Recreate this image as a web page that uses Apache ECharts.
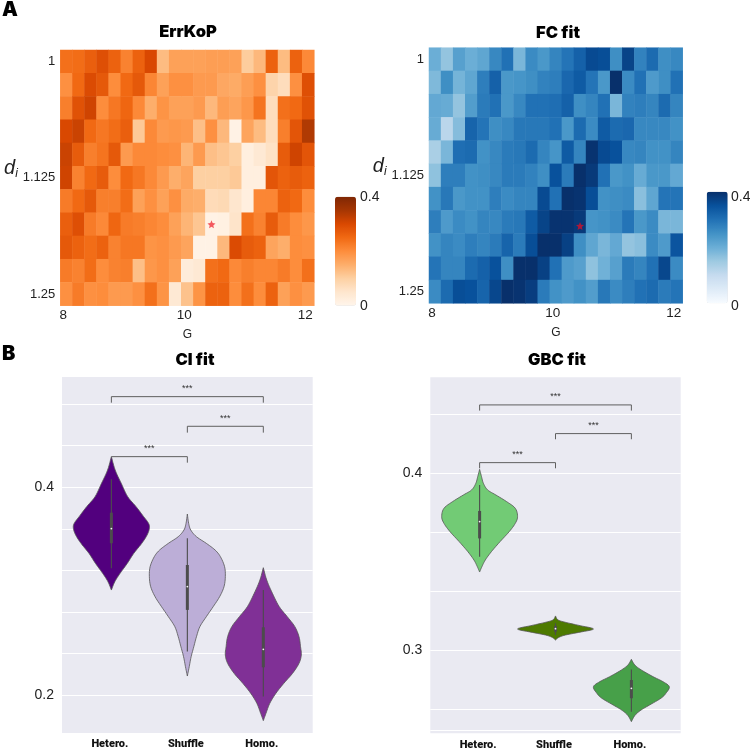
<!DOCTYPE html>
<html><head><meta charset="utf-8">
<style>html,body{margin:0;padding:0;background:#fff}#c{width:750px;height:750px}</style>
<script src="https://cdn.jsdelivr.net/npm/echarts@6/dist/echarts.min.js"></script>
</head><body><div id="c"></div>
<script>
// ---- heatmap axes ----
const gTicks = ['8','8.2','8.4','8.6','8.8','9','9.2','9.4','9.6','9.8','10','10.2','10.4','10.6','10.8','11','11.2','11.4','11.6','11.8','12'];
const diTicks = ['1','1.025','1.05','1.075','1.1','1.125','1.15','1.175','1.2','1.225','1.25'];
const bestPoint = ['10.4','1.175'];
// ---- heatmap values (rows = di, columns = G) ----
const errKoP = [
[.24,.245,.265,.29,.26,.215,.26,.30,.13,.17,.17,.17,.175,.175,.17,.105,.135,.26,.13,.26,.205],
[.195,.25,.295,.275,.20,.25,.275,.21,.17,.195,.195,.18,.18,.16,.155,.175,.195,.09,.07,.195,.29],
[.22,.285,.31,.20,.23,.255,.205,.15,.19,.17,.17,.18,.135,.175,.165,.185,.235,.07,.24,.25,.285],
[.30,.315,.25,.23,.245,.265,.11,.205,.18,.185,.18,.125,.195,.135,.01,.165,.13,.07,.22,.28,.34],
[.315,.27,.22,.235,.275,.18,.205,.205,.2,.195,.14,.18,.125,.115,.10,.02,.04,.06,.27,.31,.28],
[.31,.215,.25,.27,.2,.25,.23,.205,.18,.15,.165,.10,.10,.10,.11,.02,.02,.28,.26,.27,.26],
[.225,.25,.275,.22,.22,.245,.17,.195,.17,.195,.155,.15,.075,.08,.05,.02,.21,.21,.26,.25,.2],
[.265,.29,.225,.205,.255,.225,.22,.21,.2,.17,.14,.115,.01,.015,.055,.24,.215,.27,.225,.2,.185],
[.275,.26,.245,.26,.215,.23,.23,.19,.195,.18,.165,.01,.01,.135,.295,.27,.26,.165,.15,.2,.195],
[.225,.215,.245,.2,.215,.22,.125,.185,.195,.17,.03,.04,.24,.25,.205,.22,.21,.21,.225,.2,.24],
[.195,.225,.195,.2,.18,.18,.195,.24,.19,.04,.12,.19,.26,.26,.2,.24,.2,.26,.17,.195,.18]];
const fcFit = [
[.20,.16,.225,.20,.215,.265,.30,.185,.26,.24,.27,.295,.325,.36,.355,.255,.37,.275,.31,.255,.265],
[.18,.255,.19,.215,.28,.325,.24,.245,.255,.275,.28,.315,.335,.295,.24,.40,.26,.30,.235,.255,.30],
[.21,.205,.16,.23,.285,.30,.24,.265,.30,.30,.305,.325,.255,.27,.30,.185,.275,.28,.27,.31,.27],
[.205,.115,.175,.32,.295,.255,.265,.29,.29,.29,.30,.24,.31,.26,.335,.31,.315,.265,.265,.265,.25],
[.135,.185,.305,.31,.25,.265,.285,.29,.31,.27,.245,.335,.27,.395,.36,.35,.265,.27,.25,.25,.27],
[.165,.28,.28,.25,.255,.265,.285,.285,.275,.255,.35,.285,.40,.385,.30,.24,.25,.205,.24,.24,.21],
[.25,.29,.24,.25,.25,.28,.26,.27,.27,.36,.30,.40,.395,.355,.25,.255,.26,.17,.215,.295,.295],
[.28,.235,.26,.25,.27,.265,.285,.29,.335,.37,.395,.395,.385,.245,.25,.26,.295,.24,.26,.185,.185],
[.25,.27,.26,.28,.27,.285,.32,.285,.355,.40,.40,.375,.255,.215,.185,.21,.16,.17,.26,.235,.345],
[.295,.27,.27,.31,.325,.35,.255,.40,.40,.375,.30,.235,.225,.165,.195,.225,.285,.27,.30,.365,.26],
[.26,.31,.355,.35,.32,.365,.40,.395,.38,.285,.25,.235,.25,.23,.29,.26,.28,.30,.31,.285,.295]];
// ---- violin categories ----
const groups = ['Hetero.','Shuffle','Homo.'];
// ---- CI fit: density outlines (value, relative density) and box stats [whiskerLow,q1,median,q3,whiskerHigh] ----
const ciHeteroY = [.4295,.4166,.4038,.3910,.3814,.3718,.3653,.3605,.3541,.3461,.3365,.3269,.3173,.3092,.3012];
const ciHeteroD = [0,.10,.26,.43,.65,.85,.98,1,.94,.80,.59,.42,.23,.09,0];
const ciHeteroBox = [.3221,.3462,.3603,.3756,.4077];
const ciShuffleY = [.3743,.3653,.3589,.3525,.3461,.3397,.3333,.3237,.3141,.3044,.2948,.2852,.2756,.2660,.2563,.2467,.2371,.2275,.2185];
const ciShuffleD = [0,.035,.09,.24,.50,.73,.87,.98,1,.965,.85,.68,.50,.33,.24,.17,.10,.05,0];
const ciShuffleBox = [.2420,.2821,.3045,.3253,.3510];
const ciHomoY = [.3227,.3108,.2980,.2852,.2756,.2660,.2563,.2467,.2387,.2307,.2211,.2115,.2018,.1922,.1826,.1756];
const ciHomoD = [0,.09,.24,.42,.63,.83,.94,.98,1,.94,.77,.54,.33,.17,.07,0];
const ciHomoBox = [.1987,.2269,.2442,.2654,.3013];
// ---- GBC fit ----
const gbcHeteroY = [.4022,.3981,.3943,.3906,.3877,.3840,.3802,.3755,.3717,.3670,.3614,.3557,.3510,.3472,.3442];
const gbcHeteroD = [0,.05,.10,.21,.43,.71,.94,1,.94,.78,.54,.31,.15,.06,0];
const gbcHeteroBox = [.3529,.3632,.3727,.3787,.3934];
const gbcShuffleY = [.3194,.3171,.3156,.3139,.3120,.3101,.3086,.3073,.3058];
const gbcShuffleD = [0,.07,.30,.65,1,.61,.26,.09,0];
const gbcShuffleBox = [.3087,.3105,.3122,.3137,.3153];
const gbcHomoY = [.2949,.2917,.2889,.2851,.2823,.2794,.2757,.2729,.2691,.2663,.2634,.2597];
const gbcHomoD = [0,.09,.26,.57,.83,1,.91,.78,.48,.26,.10,0];
const gbcHomoBox = [.2653,.2729,.2785,.2832,.2892];
// ---- significance brackets [from, to, bar value, left tip value, right tip value] ----
const ciBrackets = [[0,2,.4872,.4814,.4814],[1,2,.4587,.4526,.4526],[0,1,.4295,.4295,.4237]];
const ciStarsY = [.4949,.4657,.4369];
const gbcBrackets = [[0,2,.4386,.4354,.4354],[1,2,.4224,.4192,.4192],[0,1,.4060,.4028,.4028]];
const gbcStarsY = [.4433,.4267,.4103];
const sigText = '***';
// ---- axis ticks ----
const ciGridValues = [.2,.24,.28,.32,.36,.4,.44,.48];
const ciLabelValues = [.2,.4];
const gbcGridValues = [.2546,.2667,.3,.3333,.3667,.4,.4333];
const gbcLabelValues = [.3,.4];
const oranges = ['#fff5eb','#fee6ce','#fdd0a2','#fdae6b','#fd8d3c','#f16913','#d94801','#a63603','#7f2704'];
const blues = ['#f7fbff','#deebf7','#c6dbef','#9ecae1','#6baed6','#4292c6','#2171b5','#08519c','#08306b'];
const ciColors = ['#52007e','#bcaed7','#803096'];
const gbcColors = ['#72cb75','#4d7a00','#47a049'];

const SANS = '"Liberation Sans", Arial, sans-serif';
const HEAVY = 'Inter, Roboto, sans-serif';
const starPath = 'path://M12 1l3.1 7.2 7.9.7-6 5.2 1.8 7.7-6.8-4-6.8 4 1.8-7.7-6-5.2 7.9-.7z';

function cells(m){const o=[];m.forEach((r,j)=>r.forEach((v,i)=>o.push([i,j,v])));return o;}
// Catmull-Rom through screen points: draws a soft curve and keeps both tips sharp
function curve(pts){
  const out=[pts[0]];
  for(let i=0;i<pts.length-1;i++){
    const a=pts[i-1]||pts[i],b=pts[i],c=pts[i+1],d=pts[i+2]||pts[i+1];
    for(let s=1;s<=6;s++){
      const t=s/6,t2=t*t,t3=t2*t;
      out.push([0,1].map(k=>.5*(2*b[k]+(c[k]-a[k])*t+(2*a[k]-5*b[k]+4*c[k]-d[k])*t2+(3*b[k]-a[k]-3*c[k]+d[k])*t3)));
    }
  }
  return out;
}

function heatAxes(gi){
  return {
    x:{type:'category',gridIndex:gi,data:gTicks,name:'G',nameLocation:'middle',nameGap:23,
       nameTextStyle:{fontFamily:SANS,fontSize:12,color:'#222'},
       axisLine:{show:false},axisTick:{show:false},splitLine:{show:false},
       axisLabel:{interval:9,hideOverlap:false,fontFamily:SANS,fontSize:13.5,color:'#222',margin:3,padding:[0,6,0,0]}},
    y:{type:'category',gridIndex:gi,inverse:true,data:diTicks,
       name:'{d|d}{i|i}',nameLocation:'middle',nameRotate:0,nameGap:41,
       nameTextStyle:{padding:[0,0,18,0],rich:{d:{fontFamily:SANS,fontStyle:'italic',fontSize:20,color:'#222'},i:{fontFamily:SANS,fontStyle:'italic',fontSize:12,color:'#222',verticalAlign:'bottom',padding:[10,0,0,0]}}},
       axisLine:{show:false},axisTick:{show:false},splitLine:{show:false},
       axisLabel:{interval:4,hideOverlap:false,fontFamily:SANS,fontSize:13,color:'#222',margin:5}}
  };
}
function violinAxes(gi,yMin,yMax,gridVals,labelVals){
  return {
    x:{type:'value',gridIndex:gi,min:-.65,max:2.65,
       axisLine:{show:false},axisTick:{show:false,customValues:[0,1,2]},splitLine:{show:false},
       axisLabel:{customValues:[0,1,2],formatter:v=>groups[v],fontFamily:'Roboto, sans-serif',fontWeight:900,fontSize:11,color:'#111',margin:6,padding:[0,3,0,0]}},
    y:{type:'value',gridIndex:gi,min:yMin,max:yMax,
       axisLine:{show:false},axisTick:{show:false,customValues:gridVals},
       splitLine:{show:true,lineStyle:{color:'#fff',width:1}},
       axisLabel:{customValues:labelVals,formatter:v=>v.toFixed(1),fontFamily:SANS,fontSize:14,color:'#222',margin:8}}
  };
}
function violinSeries(gi,outlines,colors){
  return {type:'custom',xAxisIndex:gi,yAxisIndex:gi,silent:true,clip:false,z:3,
    data:outlines.map((o,i)=>[i]),
    encode:{x:0},
    renderItem(params,api){
      const k=params.dataIndex,o=outlines[k],kids=[];
      const right=curve(o.y.map((v,i)=>api.coord([k+.5*o.d[i],v])));
      const left=curve(o.y.map((v,i)=>api.coord([k-.5*o.d[i],v]))).reverse().slice(1,-1);
      kids.push({type:'polygon',shape:{points:right.concat(left)},
        style:{fill:colors[k],stroke:'#555',lineWidth:.8,lineJoin:'round'}});
      const b=o.box;
      const p=v=>api.coord([k,v]);
      const seg=(a,c,w)=>({type:'line',shape:{x1:p(a)[0],y1:p(a)[1],x2:p(c)[0],y2:p(c)[1]},style:{stroke:'#4c4c4c',lineWidth:w}});
      kids.push(seg(b[0],b[4],1.1));
      kids.push(seg(b[1],b[3],3));
      kids.push({type:'circle',shape:{cx:p(b[2])[0],cy:p(b[2])[1],r:.9},style:{fill:'#f5f5f5'}});
      return {type:'group',children:kids};
    }};
}
function bracketSeries(gi,brackets,starsY){
  return {type:'custom',xAxisIndex:gi,yAxisIndex:gi,silent:true,clip:false,z:4,
    data:brackets.map((b,i)=>[i]),
    encode:{x:0},
    renderItem(params,api){
      const i=params.dataIndex,b=brackets[i];
      const a=api.coord([b[0],b[3]]),c=api.coord([b[0],b[2]]),d=api.coord([b[1],b[2]]),e=api.coord([b[1],b[4]]);
      const t=api.coord([(b[0]+b[1])/2,starsY[i]]);
      return {type:'group',children:[
        {type:'polyline',shape:{points:[a,c,d,e]},style:{fill:'none',stroke:'#5f5f5f',lineWidth:1}},
        {type:'text',style:{x:t[0],y:t[1],text:sigText,fill:'#333',font:'9px '+SANS,textAlign:'center',textVerticalAlign:'middle'}}
      ]};
    }};
}
function heatSeries(gi,m,shift,color){
  return [
    {type:'heatmap',xAxisIndex:gi,yAxisIndex:gi,data:cells(m),silent:true,progressive:0},
    {type:'scatter',xAxisIndex:gi,yAxisIndex:gi,silent:true,z:5,data:[bestPoint],symbol:starPath,symbolSize:8,symbolOffset:[0,shift],itemStyle:{color:color}}
  ];
}
const ha0=heatAxes(0),ha1=heatAxes(1);
const va2=violinAxes(2,.1637,.5061,ciGridValues,ciLabelValues);
const va3=violinAxes(3,.2531,.4542,gbcGridValues,gbcLabelValues);

const ciOutlines=[{y:ciHeteroY,d:ciHeteroD,box:ciHeteroBox},{y:ciShuffleY,d:ciShuffleD,box:ciShuffleBox},{y:ciHomoY,d:ciHomoD,box:ciHomoBox}];
const gbcOutlines=[{y:gbcHeteroY,d:gbcHeteroD,box:gbcHeteroBox},{y:gbcShuffleY,d:gbcShuffleD,box:gbcShuffleBox},{y:gbcHomoY,d:gbcHomoD,box:gbcHomoBox}];

const titleStyle={fontFamily:HEAVY,fontWeight:900,fontSize:16.5,color:'#000'};
const mkTitle=(t,x,y)=>({text:t,left:x,top:y,textAlign:'center',padding:0,textStyle:titleStyle});
const panel=(t,y)=>({text:t,left:2,top:y,padding:0,textStyle:{fontFamily:HEAVY,fontWeight:900,fontSize:20,color:'#000'}});
const barLabel=(t,x,y)=>({type:'text',left:x,top:y,style:{text:t,font:'14px '+SANS,fill:'#222'},silent:true});

const chart=echarts.init(document.getElementById('c'),null,{renderer:'canvas'});
chart.setOption({
  animation:false,
  backgroundColor:'#fff',
  title:[mkTitle('ErrKoP',188,24),mkTitle('FC fit',558,25),mkTitle('CI fit',195,352),mkTitle('GBC fit',557,352),panel('A',0),panel('B',344)],
  grid:[
    {left:60.3,top:50,width:254,height:255.7,outerBoundsMode:'none'},
    {left:429,top:47.7,width:253.7,height:255.6,outerBoundsMode:'none'},
    {left:62,top:377,width:250.7,height:356,outerBoundsMode:'none',show:true,backgroundColor:'#eaeaf2',borderWidth:0},
    {left:430.3,top:377.3,width:250.4,height:356,outerBoundsMode:'none',show:true,backgroundColor:'#eaeaf2',borderWidth:0}
  ],
  xAxis:[ha0.x,ha1.x,va2.x,va3.x],
  yAxis:[ha0.y,ha1.y,va2.y,va3.y],
  visualMap:[
    {type:'continuous',seriesIndex:0,min:0,max:.4,inRange:{color:oranges},left:335,top:196.7,itemWidth:21,itemHeight:109,padding:0,text:null,showLabel:false,calculable:false,realtime:false,handleSize:0,indicatorSize:0},
    {type:'continuous',seriesIndex:2,min:0,max:.4,inRange:{color:blues},left:706.7,top:191.7,itemWidth:21,itemHeight:111.6,padding:0,text:null,showLabel:false,calculable:false,realtime:false,handleSize:0,indicatorSize:0}
  ],
  graphic:[barLabel('0.4',360,190),barLabel('0',360,299),barLabel('0.4',731,190),barLabel('0',731,299)],
  series:[
    ...heatSeries(0,errKoP,0,'#f0323c'),
    ...heatSeries(1,fcFit,4,'#d2102a'),
    violinSeries(2,ciOutlines,ciColors),
    bracketSeries(2,ciBrackets,ciStarsY),
    violinSeries(3,gbcOutlines,gbcColors),
    bracketSeries(3,gbcBrackets,gbcStarsY)
  ]
});
</script></body></html>
